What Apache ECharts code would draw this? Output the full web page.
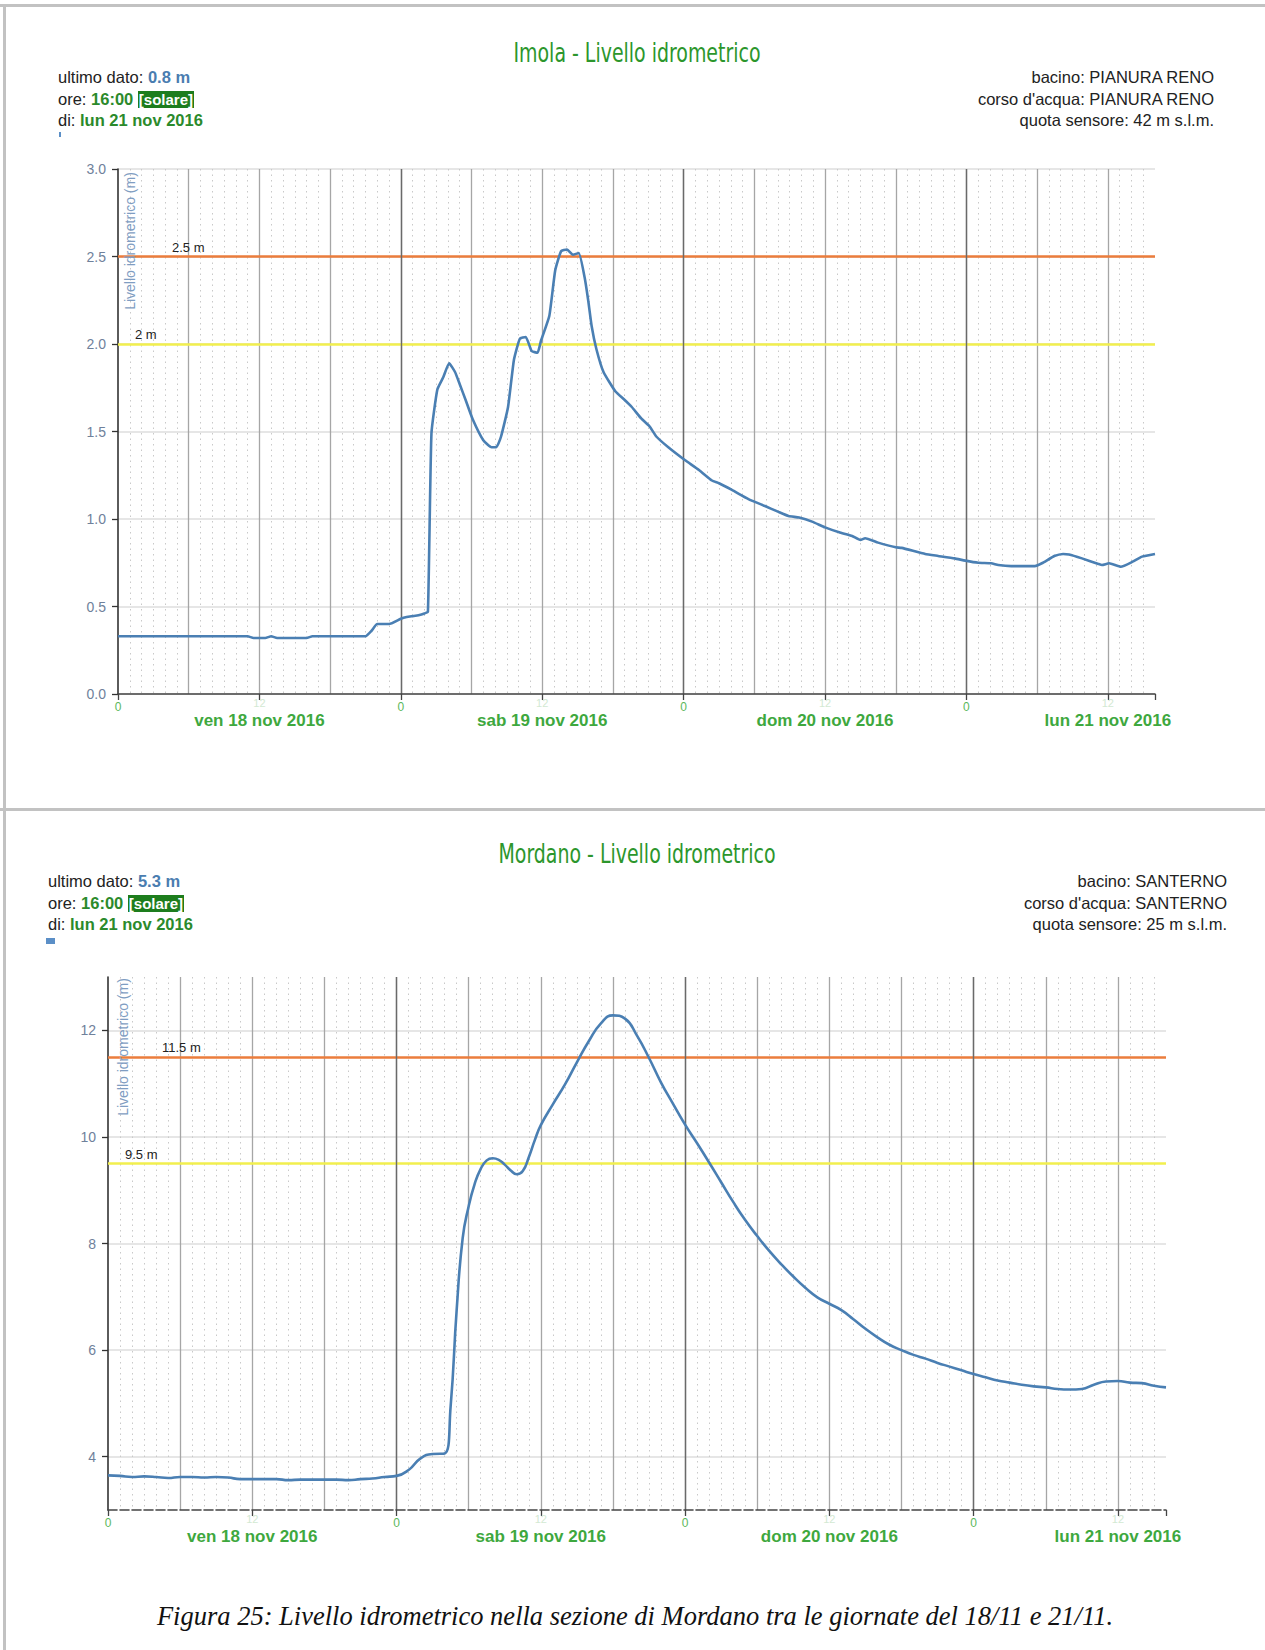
<!DOCTYPE html>
<html>
<head>
<meta charset="utf-8">
<script src="https://cdn.jsdelivr.net/npm/echarts@6/dist/echarts.min.js"></script>
<style>
html,body{margin:0;padding:0;background:#fff;}
#page{position:relative;width:1265px;height:1650px;overflow:hidden;background:#fff;font-family:'Liberation Sans',Arial,sans-serif;}
#chart{position:absolute;left:0;top:0;width:1265px;height:1650px;}
.hl{position:absolute;left:0;width:1265px;height:3px;background:#c2c2c2;}
.vl{position:absolute;left:3px;top:4px;width:3px;height:1646px;background:#c2c2c2;}
.title{position:absolute;left:0;width:1274px;text-align:center;font-family:'Liberation Sans Narrow','DejaVu Sans Condensed',sans-serif;font-size:27px;line-height:32px;color:#2c962c;white-space:nowrap;transform:scaleX(0.78);transform-origin:637px 0;}
.info{position:absolute;font-size:16.5px;line-height:21.5px;color:#222;white-space:nowrap;}
.info.r{text-align:right;}
.blue{color:#4a7db0;font-weight:bold;}
.grn{color:#2b8a2b;font-weight:bold;}
.sol{background:#1d7d1d;color:#fff;font-weight:bold;padding:0 1px;font-size:15px;}
.yname{position:absolute;width:170px;height:16px;line-height:16px;text-align:center;font-size:14px;color:#7f9dc2;transform:rotate(-90deg);white-space:nowrap;}
.icon{position:absolute;background:#5b8fc7;}
.cap{position:absolute;left:0;width:1270px;text-align:center;font-family:'Liberation Serif','Times New Roman',serif;font-style:italic;font-size:26.5px;line-height:30px;color:#111;white-space:nowrap;}
</style>
</head>
<body>
<div id="page">
  <div id="chart"></div>
  <div class="hl" style="top:4px"></div>
  <div class="hl" style="top:808px"></div>
  <div class="vl"></div>

  <div class="title" style="top:37px">Imola - Livello idrometrico</div>
  <div class="info" style="left:58px;top:67px">ultimo dato: <span class="blue">0.8 m</span><br>ore: <span class="grn">16:00</span> <span class="sol">[solare]</span><br>di: <span class="grn">lun 21 nov 2016</span></div>
  <div class="info r" style="right:51px;top:67px">bacino: PIANURA RENO<br>corso d'acqua: PIANURA RENO<br>quota sensore: 42 m s.l.m.</div>
  <div class="icon" style="left:59px;top:132px;width:2px;height:5px"></div>
  <div class="yname" style="left:45px;top:233px">Livello idrometrico (m)</div>

  <div class="title" style="top:838px">Mordano - Livello idrometrico</div>
  <div class="info" style="left:48px;top:871px">ultimo dato: <span class="blue">5.3 m</span><br>ore: <span class="grn">16:00</span> <span class="sol">[solare]</span><br>di: <span class="grn">lun 21 nov 2016</span></div>
  <div class="info r" style="right:38px;top:871px">bacino: SANTERNO<br>corso d'acqua: SANTERNO<br>quota sensore: 25 m s.l.m.</div>
  <div class="icon" style="left:46px;top:938px;width:9px;height:6px"></div>
  <div class="yname" style="left:38px;top:1039px">Livello idrometrico (m)</div>

  <div class="cap" style="top:1601px">Figura 25: Livello idrometrico nella sezione di Mordano tra le giornate del 18/11 e 21/11.</div>
</div>
<script>
// ---- data (hours counted from ven 18 nov 2016, 00:00) ----
const dateLabels = ['ven 18 nov 2016', 'sab 19 nov 2016', 'dom 20 nov 2016', 'lun 21 nov 2016'];

const imolaHours = [
  0, 1, 2, 3, 4, 5, 6, 7, 8, 9, 10, 11,
  11.5, 12.5, 13, 13.5, 14, 15, 16, 16.5, 17, 18, 19, 20, 21,
  21.5, 22, 23, 24, 24.5, 25, 25.5, 26, 26.3,
  26.6, 27.1, 27.6, 28.1, 28.6, 29, 29.5, 30.1, 31, 31.7, 32.1, 32.5,
  33.1, 33.6, 34.1, 34.6, 35.1, 35.6, 35.9, 36.6, 37.1, 37.6, 38.1, 38.6,
  39.1, 39.6, 39.9, 40.2, 40.6, 41.2, 42.2, 43, 43.6, 44.4, 45.1, 45.7,
  46.7, 48.1, 49.3, 50.4, 51, 52.1, 53.5, 54.9, 56, 56.9, 57.8, 58.9,
  60, 61.2, 62.3, 63, 63.4, 64.5, 66, 66.5, 68.5, 69.6, 71, 71.9,
  73, 74.1, 74.7, 75.8, 77.8, 78.4, 79.5, 80.2, 80.7, 81.8, 83.2, 83.5,
  84.1, 85.1, 86.1, 86.9, 88
];
const imolaLevels = [
  0.33, 0.33, 0.33, 0.33, 0.33, 0.33, 0.33, 0.33, 0.33, 0.33, 0.33, 0.33,
  0.32, 0.32, 0.33, 0.32, 0.32, 0.32, 0.32, 0.33, 0.33, 0.33, 0.33, 0.33, 0.33,
  0.36, 0.40, 0.40, 0.43, 0.44, 0.445, 0.45, 0.46, 0.47,
  1.49, 1.74, 1.81, 1.89, 1.84, 1.77, 1.68, 1.57, 1.45, 1.41, 1.41, 1.47,
  1.64, 1.91, 2.03, 2.04, 1.96, 1.95, 2.02, 2.16, 2.42, 2.53, 2.54, 2.51,
  2.52, 2.38, 2.25, 2.10, 1.97, 1.84, 1.73, 1.68, 1.64, 1.575, 1.53, 1.47,
  1.41, 1.337, 1.28, 1.22, 1.204, 1.166, 1.114, 1.074, 1.042, 1.017, 1.008, 0.985,
  0.952, 0.924, 0.903, 0.88, 0.89, 0.865, 0.838, 0.835, 0.80, 0.789, 0.775, 0.762,
  0.75, 0.747, 0.737, 0.731, 0.731, 0.747, 0.79, 0.80, 0.797, 0.775, 0.743, 0.737,
  0.747, 0.727, 0.756, 0.785, 0.80
];

const mordanoHours = [
  0, 1, 2, 3, 4, 5, 6, 7, 8, 9, 10, 11, 12, 13, 14, 15, 16, 17, 18, 19, 20, 21, 22, 23,
  24, 25, 26, 27, 28, 28.5, 29, 29.5, 30, 30.5, 31, 31.5, 32, 32.5, 33, 33.5, 34, 34.5, 35, 35.5,
  36, 37, 38, 39, 40, 41, 42, 43, 44, 45, 46, 47,
  48, 49, 50, 51, 52, 53, 54, 55, 56, 57, 58, 59,
  60, 61, 62, 63, 64, 65, 66, 67, 68, 69, 70, 71,
  72, 73, 74, 75, 76, 77, 78, 79, 80, 81, 82, 83, 84, 85, 86, 87, 88
];
const mordanoLevels = [
  3.65, 3.64, 3.62, 3.63, 3.62, 3.60, 3.62, 3.62, 3.61, 3.62, 3.61, 3.58, 3.58, 3.58, 3.58, 3.56, 3.57, 3.57, 3.57, 3.57, 3.56, 3.58, 3.59, 3.62,
  3.64, 3.75, 3.97, 4.05, 4.06, 4.95, 6.75, 8.10, 8.70, 9.12, 9.40, 9.56, 9.60, 9.57, 9.48, 9.37, 9.30, 9.36, 9.62, 9.94,
  10.22, 10.61, 10.98, 11.40, 11.80, 12.13, 12.28, 12.22, 11.90, 11.48, 11.02, 10.62,
  10.23, 9.88, 9.52, 9.15, 8.78, 8.44, 8.14, 7.86, 7.61, 7.38, 7.17, 6.99,
  6.87, 6.75, 6.58, 6.40, 6.24, 6.10, 6.00, 5.91, 5.84, 5.76, 5.69, 5.62,
  5.55, 5.49, 5.43, 5.39, 5.35, 5.32, 5.30, 5.27, 5.26, 5.27, 5.35, 5.41, 5.42, 5.39, 5.38, 5.33, 5.30
];

const imolaThresholds = [2.5, 2];
const imolaThresholdLabels = ['2.5 m', '2 m'];
const mordanoThresholds = [11.5, 9.5];
const mordanoThresholdLabels = ['11.5 m', '9.5 m'];

// ---- chart ----
const FONT = "'Liberation Sans', Arial, sans-serif";
const thresholdColors = ['#eb7d3c', '#f2ef4e'];
const thresholdOffsets = [54, 17];

function pairs(xs, ys) { return xs.map((x, i) => [x, ys[i]]); }

function xLabel(v) {
  const r = v % 24;
  if (r === 0) return '{z|0}';
  if (r === 12) return '{t|12}\n{d|' + dateLabels[(v - 12) / 24] + '}';
  return '';
}

function xAxesFor(g, lineType) {
  const base = {
    type: 'value', gridIndex: g, min: 0, max: 88, position: 'bottom',
    axisLine: { show: false, onZero: false }, axisTick: { show: false },
    axisLabel: { show: false }, splitLine: { show: false }
  };
  return [
    Object.assign({}, base, { interval: 1, z: 0,
      splitLine: { show: true, showMinLine: false, showMaxLine: false,
        lineStyle: { color: '#c9c9c9', width: 1, type: [1.5, 4] } } }),
    Object.assign({}, base, { interval: 6, z: 1,
      splitLine: { show: true, showMinLine: false, showMaxLine: false,
        lineStyle: { color: '#a6a6a6', width: 1.3 } } }),
    Object.assign({}, base, { interval: 24, z: 2,
      splitLine: { show: true, showMinLine: false, showMaxLine: false,
        lineStyle: { color: '#6a6a6a', width: 1.4 } } }),
    Object.assign({}, base, { interval: 12, z: 3,
      axisLine: { show: true, onZero: false, lineStyle: { color: '#444', width: 1.6, type: lineType } },
      axisTick: { show: true, length: 6, lineStyle: { color: '#444', width: 1.3 } },
      axisLabel: { show: true, margin: 6, formatter: xLabel, fontFamily: FONT,
        rich: {
          z: { fontSize: 12, color: '#5cb85c', lineHeight: 14, fontFamily: FONT },
          t: { fontSize: 11, color: '#d3e9d3', lineHeight: 6, fontFamily: FONT },
          d: { fontSize: 17, fontWeight: 'bold', color: '#3ea83e', lineHeight: 28, fontFamily: FONT }
        } } })
  ];
}

function thresholdMarks(values, labels) {
  return {
    z: 1, silent: true, symbol: ['none', 'none'],
    data: values.map((v, i) => ({
      yAxis: v,
      lineStyle: { color: thresholdColors[i], width: 2.5, type: 'solid' },
      label: { show: true, position: 'insideStartTop', formatter: labels[i],
        distance: [thresholdOffsets[i], 3], color: '#222', fontSize: 13, fontFamily: FONT }
    }))
  };
}

const yBase = {
  type: 'value', position: 'left',
  axisLine: { show: true, onZero: false, lineStyle: { color: '#333', width: 1.6 } },
  axisTick: { show: true, length: 6, lineStyle: { color: '#333', width: 1.3 } },
  splitLine: { show: true, lineStyle: { color: '#dedede', width: 1.5 } }
};

const chart = echarts.init(document.getElementById('chart'), null, { renderer: 'svg' });
chart.setOption({
  animation: false,
  textStyle: { fontFamily: FONT },
  grid: [
    { left: 118, top: 169, width: 1037, height: 525, containLabel: false },
    { left: 108, top: 977, width: 1058, height: 533, containLabel: false }
  ],
  xAxis: xAxesFor(0, 'solid').concat(xAxesFor(1, [9, 3])),
  yAxis: [
    Object.assign({}, yBase, { gridIndex: 0, min: 0, max: 3, interval: 0.5,
      axisLabel: { margin: 12, fontSize: 14, color: '#6f819b', fontFamily: FONT, formatter: v => v.toFixed(1) } }),
    Object.assign({}, yBase, { gridIndex: 1, min: 3, max: 13, splitNumber: 5,
      axisLabel: { margin: 12, fontSize: 14, color: '#6f819b', fontFamily: FONT, showMinLabel: false, showMaxLabel: false },
      splitLine: { show: true, showMinLine: false, showMaxLine: false, lineStyle: { color: '#dedede', width: 1.5 } } })
  ],
  series: [
    { type: 'line', name: 'Imola', xAxisIndex: 0, yAxisIndex: 0, z: 3,
      data: pairs(imolaHours, imolaLevels), showSymbol: false, smooth: 0.15,
      lineStyle: { color: '#4a7fb3', width: 2.6 }, itemStyle: { color: '#4a7fb3' },
      markLine: thresholdMarks(imolaThresholds, imolaThresholdLabels) },
    { type: 'line', name: 'Mordano', xAxisIndex: 4, yAxisIndex: 1, z: 3,
      data: pairs(mordanoHours, mordanoLevels), showSymbol: false, smooth: 0.5,
      lineStyle: { color: '#4a7fb3', width: 2.6 }, itemStyle: { color: '#4a7fb3' },
      markLine: thresholdMarks(mordanoThresholds, mordanoThresholdLabels) }
  ]
});
</script>
</body>
</html>
